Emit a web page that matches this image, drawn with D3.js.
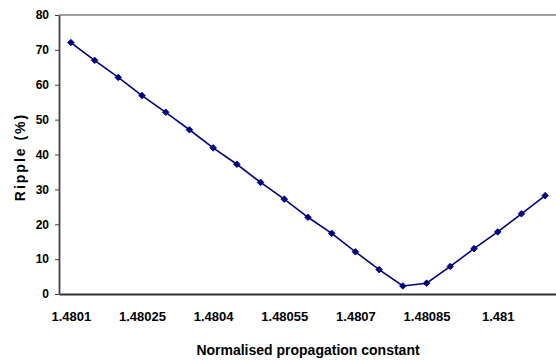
<!DOCTYPE html>
<html>
<head>
<meta charset="utf-8">
<script src="https://cdn.jsdelivr.net/npm/d3@7"></script>
<style>
  body { margin: 0; background: #fff; }
  text { font-family: "Liberation Sans", Arial, sans-serif; font-weight: bold; fill: #000; }
</style>
</head>
<body>
<div id="chart"></div>
<script>
// normalised propagation constant (categories)
var categories = ["1.4801", "1.48015", "1.4802", "1.48025", "1.4803", "1.48035", "1.4804",
                  "1.48045", "1.4805", "1.48055", "1.4806", "1.48065", "1.4807", "1.48075",
                  "1.4808", "1.48085", "1.4809", "1.48095", "1.481", "1.48105", "1.4811"];
// ripple in %
var ripple = [72.1, 67.0, 62.1, 56.9, 52.1, 47.1, 41.9, 37.2, 32.0, 27.2, 22.0,
              17.4, 12.1, 7.0, 2.3, 3.1, 7.9, 13.0, 17.8, 23.0, 28.2];
var xTickLabels = ["1.4801", "1.48025", "1.4804", "1.48055", "1.4807", "1.48085", "1.481"];
var yTicks = [0, 10, 20, 30, 40, 50, 60, 70, 80];

var plotLeft = 59, plotRight = 557, plotTop = 15, plotBottom = 294;

svg = d3.select("#chart")
        .append("svg")
        .attr("width", 556)
        .attr("height", 360);

var x = d3.scalePoint()
          .domain(categories)
          .range([plotLeft, plotRight])
          .padding(0.5);

var y = d3.scaleLinear()
          .domain([0, 80])
          .range([plotBottom, plotTop]);

// top border of plot area
svg.append("line")
   .attr("x1", plotLeft)
   .attr("x2", plotRight)
   .attr("y1", y(80))
   .attr("y2", y(80))
   .attr("stroke", "#a0a0a0")
   .attr("stroke-width", 2);

// y axis
var yAxis = svg.append("g")
   .attr("transform", "translate(" + plotLeft + ",0)")
   .call(d3.axisLeft(y).tickValues(yTicks).tickSize(4).tickSizeOuter(0).tickPadding(6));
yAxis.select(".domain").attr("stroke", "#404040").attr("stroke-width", 1.8);
yAxis.selectAll(".tick line").attr("stroke", "#404040");
yAxis.selectAll("text").style("font-size", "12px").attr("fill", "#000");

// x axis
var xAxis = svg.append("g")
   .attr("transform", "translate(0," + plotBottom + ")")
   .call(d3.axisBottom(x).tickValues(xTickLabels).tickSize(0).tickSizeOuter(0).tickPadding(18));
xAxis.select(".domain").attr("stroke", "#303030").attr("stroke-width", 2);
xAxis.selectAll("text").style("font-size", "13px").attr("fill", "#000");

// series line
var line = d3.line()
             .x(function(d, i) { return x(categories[i]); })
             .y(function(d) { return y(d); });

svg.append("path")
   .datum(ripple)
   .attr("fill", "none")
   .attr("stroke", "#000080")
   .attr("stroke-width", 1.6)
   .attr("d", line);

svg.selectAll(".marker")
   .data(ripple)
   .enter()
   .append("path")
   .attr("class", "marker")
   .attr("d", d3.symbol().type(d3.symbolDiamond2).size(28))
   .attr("transform", function(d, i) { return "translate(" + x(categories[i]) + "," + y(d) + ")"; })
   .attr("fill", "#000080")
   .attr("stroke", "#000080")
   .attr("stroke-width", 0.8);

// axis titles
svg.append("text")
   .attr("x", (plotLeft + plotRight) / 2)
   .attr("y", 355)
   .attr("text-anchor", "middle")
   .style("font-size", "14px")
   .text("Normalised propagation constant");

svg.append("text")
   .attr("transform", "translate(25,157) rotate(-90)")
   .attr("text-anchor", "middle")
   .style("font-size", "14px")
   .style("letter-spacing", "2px")
   .text("Ripple (%)");
</script>
</body>
</html>
